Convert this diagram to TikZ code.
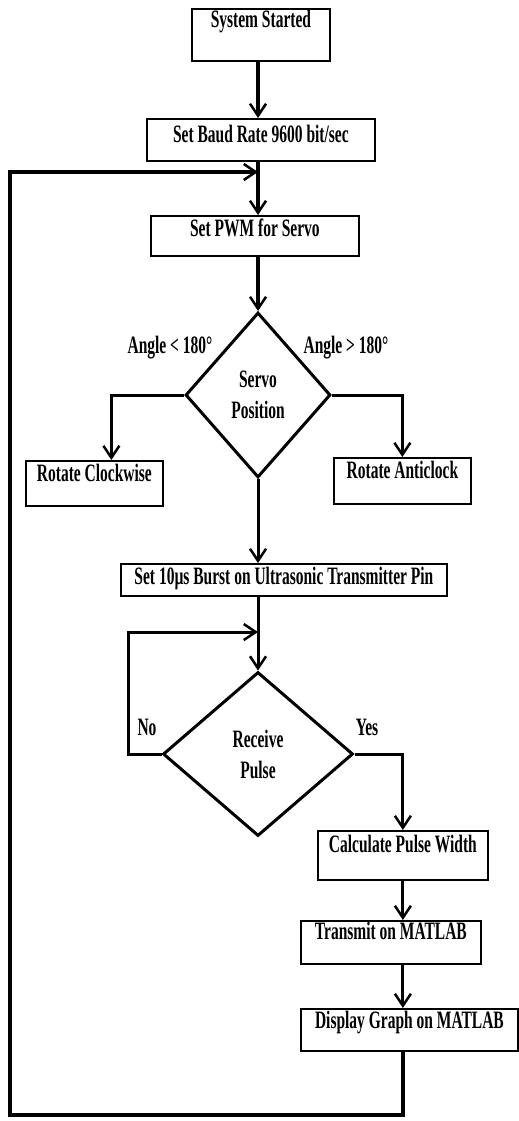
\documentclass[tikz,border=0pt]{standalone}
\usepackage{fontspec}
\setmainfont{Liberation Serif}[FakeStretch=0.62]
\usetikzlibrary{shapes.geometric,arrows.meta}
\begin{document}
\begin{tikzpicture}[x = 1pt, y = -1pt, draw = black,
  font = \fontsize{25}{31}\selectfont\bfseries,
  box/.style = {draw, line width = 1.8pt, inner sep = 0pt, anchor = north west},
  decision/.style = {draw, diamond, line width = 3pt, inner sep = 0pt, align = center},
  arr/.style = {line width = 3pt, -{Straight Barb[length = 12pt, width = 16pt, line width = 2.5pt]}}]
\useasboundingbox (0,0) rectangle (519,1121);
% process boxes
\node[box, minimum width = 138, text height = 19, text depth = 33] (start) at (191,8) {System Started};
\node[box, minimum width = 228, text height = 24, text depth = 18] (baud) at (146,118) {Set Baud Rate 9600 bit/sec};
\node[box, minimum width = 208, text height = 21, text depth = 19] (pwm) at (150,215) {Set PWM for Servo};
\node[box, minimum width = 137, text height = 21, text depth = 24] (cw) at (25,460) {Rotate Clockwise};
\node[box, minimum width = 137, text height = 21, text depth = 25] (acw) at (333,457) {Rotate Anticlock};
\node[box, minimum width = 326, text height = 21, text depth = 11] (burst) at (120,563) {Set 10µs Burst on Ultrasonic Transmitter Pin};
\node[box, minimum width = 170, text height = 22, text depth = 27] (calc) at (317,830) {Calculate Pulse Width};
\node[box, minimum width = 180, text height = 19, text depth = 24] (tx) at (300,920) {Transmit on MATLAB};
\node[box, minimum width = 217, text height = 20, text depth = 22] (disp) at (300,1008) {Display Graph on MATLAB};
% decisions
\node[decision, minimum width = 145, minimum height = 165] (servo) at (258,395) {Servo\\Position};
\node[decision, minimum width = 190, minimum height = 164] (pulse) at (258,754) {Receive\\Pulse};
\node (less) at (170,348) {Angle < 180°};
\node (more) at (346,348) {Angle > 180°};
\node (no) at (147,727) {No};
\node (yes) at (367,727) {Yes};
% connectors
\coordinate (join) at (258,172);
\coordinate (wait) at (258,632);
\coordinate (corner) at (10,1115);
\draw[arr, line width = 4pt] (start.south -| servo) -- (baud.north -| servo);
\draw[arr, line width = 4pt] (baud.south -| servo) -- (pwm.north -| servo);
\draw[arr, line width = 4pt] (pwm.south -| servo) -- (servo.north);
\draw[arr] (servo.west) -| ([xshift = 17pt]cw.north);
\draw[arr] (servo.east) -| (acw.north);
\draw[arr] (servo.south) -- (burst.north -| servo);
\draw[arr] (burst.south -| pulse) -- (pulse.north);
\draw[arr] (pulse.west) -- ++(-33,0) |- (wait);
\draw[arr] (pulse.east) -| (calc.north);
\draw[arr] (calc.south) -- (tx.north -| calc);
\draw[arr] (tx.south -| calc) -- (disp.north -| calc);
\draw[arr, line width = 4pt] (disp.south -| calc) -- (calc |- corner) -- (corner) |- (join);
\end{tikzpicture}
\end{document}
